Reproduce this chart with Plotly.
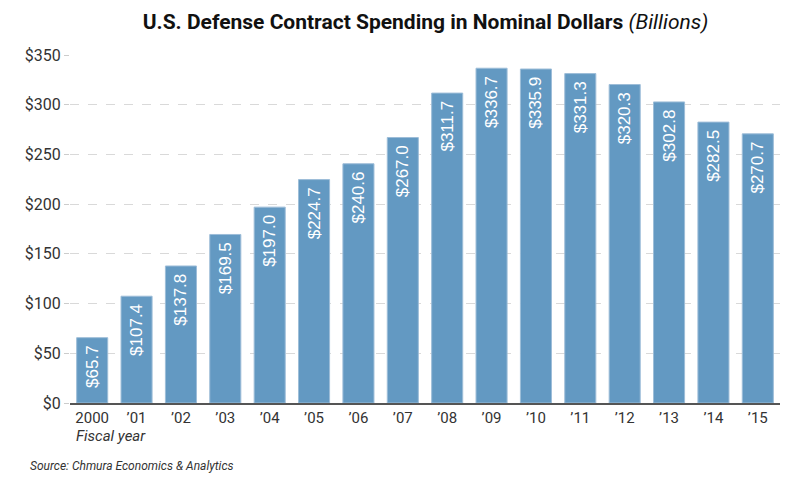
import plotly.graph_objects as go

years = ["2000", "\u201901", "\u201902", "\u201903", "\u201904", "\u201905", "\u201906", "\u201907",
         "\u201908", "\u201909", "\u201910", "\u201911", "\u201912", "\u201913", "\u201914", "\u201915"]
values = [65.7, 107.4, 137.8, 169.5, 197.0, 224.7, 240.6, 267.0,
          311.7, 336.7, 335.9, 331.3, 320.3, 302.8, 282.5, 270.7]
tick_vals = [0, 50, 100, 150, 200, 250, 300, 350]
tick_text = ["$" + str(v) for v in tick_vals]

fig = go.Figure(go.Bar(
    x=years, y=values,
    marker=dict(color="#6399c2", line=dict(width=1, color="#9dbdd8")),
    text=["$%.1f\u00a0" % v for v in values],
    textposition="inside", insidetextanchor="end",
    textangle=-90,
    textfont=dict(family="Liberation Sans, Arial", size=17, color="white"),
    cliponaxis=False,
))

fig.update_layout(
    width=800, height=484,
    margin=dict(l=70, r=20, t=55, b=81),
    paper_bgcolor="white", plot_bgcolor="white",
    bargap=0.3,
    showlegend=False,
    font=dict(family="Roboto", color="#333333"),
    title=dict(
        text="<b>U.S. Defense Contract Spending in Nominal Dollars</b> <i>(Billions)</i>",
        x=0.532, xanchor="center", y=1 - 22 / 484, yref="container", yanchor="middle",
        font=dict(family="Roboto", size=21, color="#111111"),
    ),
    xaxis=dict(
        type="category", showgrid=False, ticks="",
        showline=True, linecolor="#555555", linewidth=1.5,
        tickfont=dict(family="Roboto", size=15, color="#333333"),
    ),
    yaxis=dict(
        range=[0, 350], tickvals=tick_vals, ticktext=tick_text,
        showgrid=True, gridcolor="#d9d9d9", griddash="dash", gridwidth=1,
        ticks="outside", ticklen=5, tickcolor="#cccccc",
        zeroline=False,
        tickfont=dict(family="Roboto", size=16, color="#333333"),
    ),
    annotations=[
        dict(text="<i>Fiscal year</i>", xref="paper", yref="paper",
             x=0.005, y=-0.094, xanchor="left", yanchor="middle", showarrow=False,
             font=dict(family="Roboto", size=15, color="#333333")),
        dict(text="<i>Source: Chmura Economics &amp; Analytics</i>", xref="paper", yref="paper",
             x=-0.059, y=-0.181, xanchor="left", yanchor="middle", showarrow=False,
             font=dict(family="Roboto", size=12, color="#333333")),
    ],
)

fig.write_html("out.html", config={"displayModeBar": False},
               post_script="document.body.style.margin='0';document.body.style.overflow='hidden';")
